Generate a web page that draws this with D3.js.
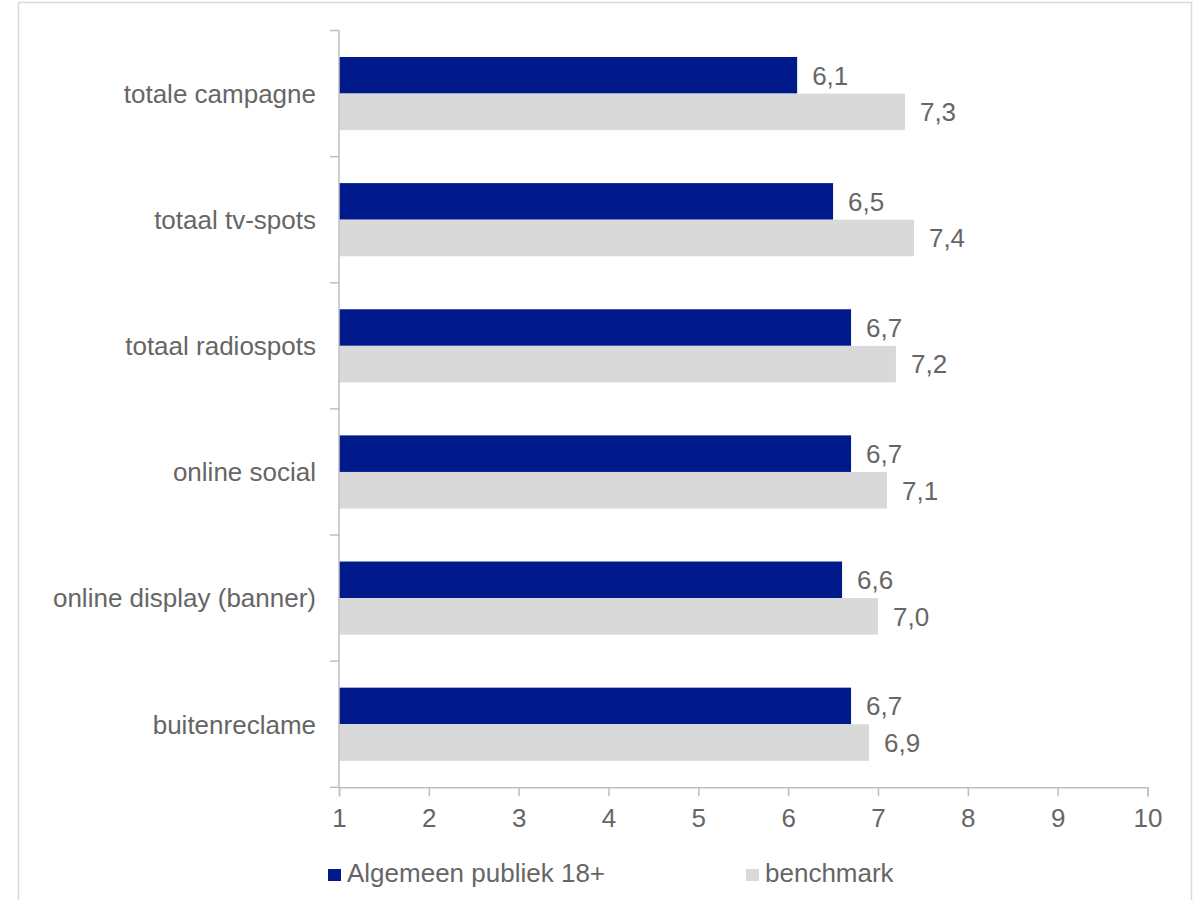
<!DOCTYPE html>
<html>
<head>
<meta charset="utf-8">
<script src="https://cdn.jsdelivr.net/npm/d3@7"></script>
<style>
  html, body { margin: 0; padding: 0; background: #ffffff; }
  svg { display: block; }
  text { font-family: "Liberation Sans", Arial, sans-serif; }
</style>
</head>
<body>
<svg id="chart" width="1201" height="900"></svg>
<script>
const categories = ["totale campagne", "totaal tv-spots", "totaal radiospots", "online social", "online display (banner)", "buitenreclame"];
const seriesNames = ["Algemeen publiek 18+", "benchmark"];
const algemeen = [6.1, 6.5, 6.7, 6.7, 6.6, 6.7];
const benchmark = [7.3, 7.4, 7.2, 7.1, 7.0, 6.9];
const xTicks = [1, 2, 3, 4, 5, 6, 7, 8, 9, 10];
const colors = ["#001a8c", "#d9d9d9"];

const svg = d3.select("#chart");
const textColor = "#666666";
const axisColor = "#bfbfbf";
const fontSize = 26;

// frame
svg.append("path")
  .attr("d", "M18.5,900 L18.5,2.5 L1191.5,2.5 L1191.5,900")
  .attr("fill", "none").attr("stroke", "#d9d9d9").attr("stroke-width", 1.5);

const x = d3.scaleLinear().domain([1, 10]).range([339, 1147.5]);
const y = d3.scaleBand().domain(categories).range([30.5, 787.3]).paddingInner(0.42).paddingOuter(0.21);
const ySub = d3.scaleBand().domain(seriesNames).range([0, y.bandwidth()]);

const fmtLocale = d3.formatLocale({decimal: ",", thousands: ".", grouping: [3], currency: ["€", ""]});
const fmt = fmtLocale.format(".1f");

const data = categories.map((c, i) => ({cat: c, vals: [algemeen[i], benchmark[i]]}));

// bars
const groups = svg.append("g").selectAll("g").data(data).join("g")
  .attr("transform", d => `translate(0,${y(d.cat)})`);

groups.selectAll("rect").data(d => d.vals.map((v, j) => ({v, j}))).join("rect")
  .attr("x", x(1))
  .attr("y", d => ySub(seriesNames[d.j]))
  .attr("width", d => x(d.v) - x(1))
  .attr("height", ySub.bandwidth())
  .attr("fill", d => colors[d.j]);

groups.selectAll("text.val").data(d => d.vals.map((v, j) => ({v, j}))).join("text")
  .attr("class", "val")
  .attr("x", d => x(d.v) + 15)
  .attr("y", d => ySub(seriesNames[d.j]) + ySub.bandwidth() / 2 + 9.3)
  .attr("font-size", fontSize)
  .attr("fill", textColor)
  .text(d => fmt(d.v));

// x axis
const xAxis = svg.append("g").attr("transform", "translate(0,787.3)")
  .call(d3.axisBottom(x).tickValues(xTicks).tickSize(9).tickPadding(12).tickFormat(d3.format("d")));
xAxis.select(".domain").attr("stroke", axisColor).attr("stroke-width", 1.5);
xAxis.selectAll(".tick line").attr("stroke", axisColor).attr("stroke-width", 1.5);
xAxis.selectAll(".tick text")
  .attr("font-size", fontSize).attr("fill", textColor)
  .attr("font-family", "Liberation Sans, Arial, sans-serif")
  .attr("dy", null).attr("y", 40);

// y axis line and boundary ticks
const yAxisG = svg.append("g");
yAxisG.append("line")
  .attr("x1", x(1)).attr("x2", x(1))
  .attr("y1", y.range()[0]).attr("y2", y.range()[1])
  .attr("stroke", axisColor).attr("stroke-width", 1.5);
const bounds = categories.map(c => y(c) - y.step() * y.paddingInner() / 2).concat([y.range()[1]]);
yAxisG.selectAll("line.tk").data(bounds).join("line")
  .attr("class", "tk")
  .attr("x1", x(1) - 9).attr("x2", x(1))
  .attr("y1", d => d).attr("y2", d => d)
  .attr("stroke", axisColor).attr("stroke-width", 1.5);

// category labels
svg.append("g").selectAll("text").data(categories).join("text")
  .attr("x", 316)
  .attr("y", d => y(d) + y.bandwidth() / 2 + 9.3)
  .attr("text-anchor", "end")
  .attr("font-size", fontSize)
  .attr("fill", textColor)
  .text(d => d);

// legend
const legendX = [328, 746];
const legend = svg.append("g").selectAll("g").data(seriesNames).join("g")
  .attr("transform", (d, i) => `translate(${legendX[i]},0)`);
legend.append("rect").attr("x", 0).attr("y", 869).attr("width", 13).attr("height", 12)
  .attr("fill", (d, i) => colors[i]);
legend.append("text").attr("x", 19).attr("y", 882)
  .attr("font-size", fontSize).attr("fill", textColor)
  .text(d => d);
</script>
</body>
</html>
